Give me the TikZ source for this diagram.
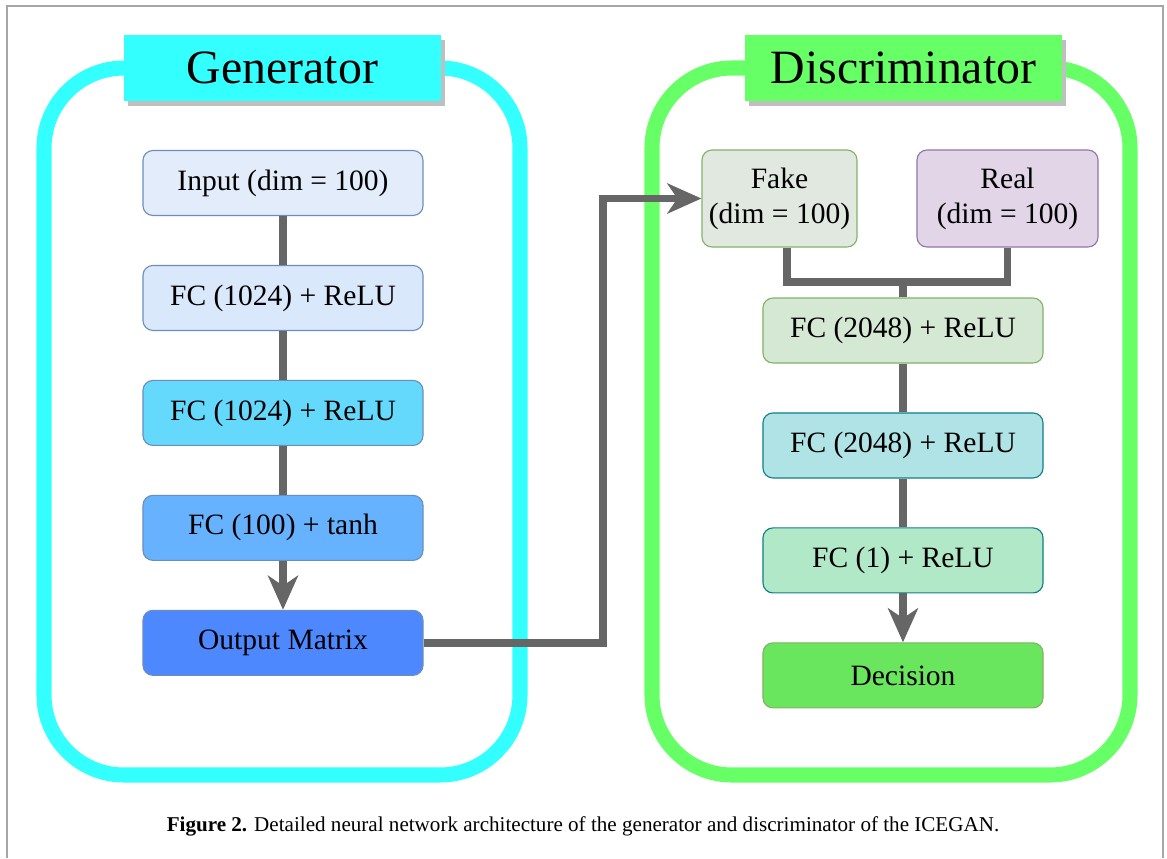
\documentclass[tikz,border=0pt]{standalone}
\usepackage{fontspec}
\setmainfont{Liberation Serif}
\usepackage{tikz}
\usetikzlibrary{arrows.meta,positioning,shadows}

\definecolor{gencyan}{HTML}{33FFFF}
\definecolor{discgreen}{HTML}{66FF66}
\definecolor{linkgray}{HTML}{666666}
\definecolor{blueline}{HTML}{6C8EBF}
\definecolor{greenline}{HTML}{82B366}
\definecolor{tealline}{HTML}{0E8088}
\definecolor{purpleline}{HTML}{9673A6}
\definecolor{inputfill}{HTML}{E3ECFB}
\definecolor{gfcone}{HTML}{DAE8FC}
\definecolor{gfctwo}{HTML}{64D9FC}
\definecolor{gfcthree}{HTML}{66B2FF}
\definecolor{outfill}{HTML}{4D88FF}
\definecolor{fakefill}{HTML}{E1E8E0}
\definecolor{realfill}{HTML}{E1D5E7}
\definecolor{dfcone}{HTML}{D5E8D4}
\definecolor{dfctwo}{HTML}{B0E3E6}
\definecolor{dfcthree}{HTML}{B1E8C8}
\definecolor{decfill}{HTML}{6AE65E}

\begin{document}
\begin{tikzpicture}[
  x=0.025cm, y=-0.025cm,
  node distance=1.22cm,
  block/.style={
    draw,
    rounded corners=0.25cm,
    align=center,
    line width=0.8pt,
    minimum width=7cm,
    minimum height=1.625cm,
    font=\fontsize{21}{25}\selectfont
  },
  title/.style={
    minimum width=7.925cm,
    minimum height=1.65cm,
    font=\fontsize{34}{38}\selectfont,
    drop shadow={shadow xshift=0.1cm,shadow yshift=-0.12cm,fill=black!25,opacity=1}
  },
  frame/.style={line width=10.7pt, rounded corners=2cm},
  link/.style={draw=linkgray, line width=5.6pt},
  flow/.style={link, -{Stealth[length=0.85cm,width=0.75cm,inset=0.25cm]}}
]

\fill[white] (0,0) rectangle (1167,858);
\useasboundingbox (0,0) rectangle (1167,858);
\draw[black!35, line width=1pt] (7,858) -- (7,6) -- (1163,6) -- (1163,858);

% Frames
\draw[frame, gencyan] (44,68) rectangle (520,775);
\draw[frame, discgreen] (652,68) rectangle (1130,775);

\node[title, fill=gencyan] (gentitle) at (282.5,68) {Generator};
\node[title, fill=discgreen] (disctitle) at (903.5,68) {Discriminator};

% Generator
\node[block, draw=blueline, fill=inputfill] (input) at (283,183) {Input (dim = 100)};
\node[block, below=of input, draw=blueline, fill=gfcone] (gfc1) {FC (1024) + ReLU};
\node[block, below=of gfc1, draw=blueline, fill=gfctwo] (gfc2) {FC (1024) + ReLU};
\node[block, below=of gfc2, draw=blueline, fill=gfcthree] (gfc3) {FC (100) + tanh};
\node[block, below=of gfc3, draw=blueline, fill=outfill] (output) {Output Matrix};

% Discriminator
\node[block, draw=greenline, fill=fakefill, minimum width=3.875cm, minimum height=2.425cm] (fake) at (779.5,198.5) {Fake\\(dim = 100)};
\node[block, draw=purpleline, fill=realfill, minimum width=4.525cm, minimum height=2.425cm] (real) at (1007.5,198.5) {Real\\(dim = 100)};
\node[block, draw=greenline, fill=dfcone] (dfc1) at (903,330.5) {FC (2048) + ReLU};
\node[block, below=of dfc1, draw=tealline, fill=dfctwo] (dfc2) {FC (2048) + ReLU};
\node[block, below=of dfc2, draw=tealline, fill=dfcthree] (dfc3) {FC (1) + ReLU};
\node[block, below=of dfc3, draw=greenline, fill=decfill] (decision) {Decision};

% Links
\draw[link] (input) -- (gfc1);
\draw[link] (gfc1) -- (gfc2);
\draw[link] (gfc2) -- (gfc3);
\draw[flow] (gfc3) -- (output);

\coordinate (join) at (903,282);
\draw[link] ([xshift=0.18cm]fake.south) |- (join);
\draw[link] (real.south) |- (join);
\draw[link] (join) -- (dfc1);
\draw[link] (dfc1) -- (dfc2);
\draw[link] (dfc2) -- (dfc3);
\draw[flow] (dfc3) -- (decision);

\draw[flow] (output.east) -| ([xshift=-2.45cm]fake.west) -- (fake.west);

% Caption
\node[font=\fontsize{15}{17}\selectfont] (caption) at (583,826)
  {\textbf{Figure 2.} Detailed neural network architecture of the generator and discriminator of the ICEGAN.};

\end{tikzpicture}
\end{document}
